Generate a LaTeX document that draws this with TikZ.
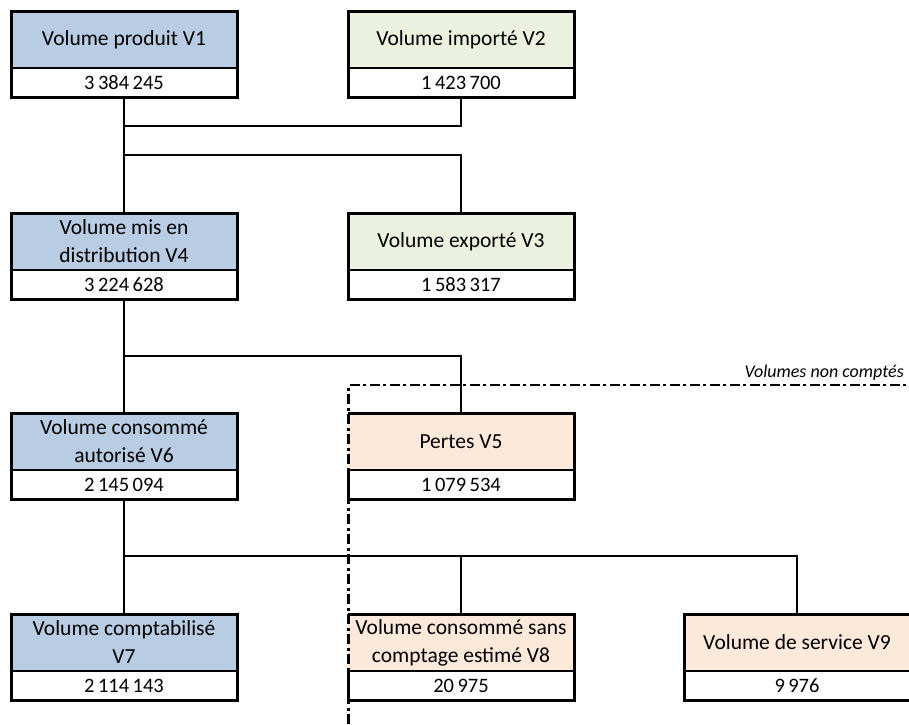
\documentclass[tikz,border=0pt]{standalone}
\usepackage{fontspec}
\setmainfont{Carlito}
\definecolor{cblue}{HTML}{B8CCE4}
\definecolor{cgreen}{HTML}{EBF1DE}
\definecolor{cpeach}{HTML}{FDE9D9}
\begin{document}
\begin{tikzpicture}[x=1pt,y=-1pt,
  cell/.style={anchor=north west,minimum width=226pt,minimum height=57pt,inner sep=0pt,outer sep=0pt,
    align=center,font=\fontsize{21.5}{28}\selectfont},
  valcell/.style={anchor=north west,minimum width=226pt,minimum height=29pt,inner sep=0pt,outer sep=0pt,
    fill=white,font=\fontsize{20.5}{24}\selectfont,text height=14pt,text depth=1pt},
  frame/.style={line width=3pt,line join=miter},
  sep/.style={line width=1.6pt},
  link/.style={line width=2.8pt,line join=miter},
  uncounted/.style={line width=2.2pt,dash pattern=on 10pt off 3.5pt on 3pt off 3.5pt}]
\useasboundingbox (0,0) rectangle (909,724);

% cells
\node[cell,fill=cblue] (v1) at (11,11) {Volume produit V1};
\node[valcell] (v1val) at (v1.south west) {3\,384\,245};
\node[cell,fill=cgreen] (v2) at (348,11) {Volume importé V2};
\node[valcell] (v2val) at (v2.south west) {1\,423\,700};
\node[cell,fill=cblue] (v4) at (11,213) {Volume mis en\\distribution V4};
\node[valcell] (v4val) at (v4.south west) {3\,224\,628};
\node[cell,fill=cgreen] (v3) at (348,213) {Volume exporté V3};
\node[valcell] (v3val) at (v3.south west) {1\,583\,317};
\node[cell,fill=cblue] (v6) at (11,413) {Volume consommé\\autorisé V6};
\node[valcell] (v6val) at (v6.south west) {2\,145\,094};
\node[cell,fill=cpeach] (v5) at (348,413) {Pertes V5};
\node[valcell] (v5val) at (v5.south west) {1\,079\,534};
\node[cell,fill=cblue] (v7) at (11,614) {Volume comptabilisé\\V7};
\node[valcell] (v7val) at (v7.south west) {2\,114\,143};
\node[cell,fill=cpeach] (v8) at (348,614) {Volume consommé sans\\comptage estimé V8};
\node[valcell] (v8val) at (v8.south west) {20\,975};
\node[cell,fill=cpeach] (v9) at (684,614) {Volume de service V9};
\node[valcell] (v9val) at (v9.south west) {9\,976};

% separators and frames
\foreach \n in {v1,v2,v3,v4,v5,v6,v7,v8,v9}
  \draw[sep] (\n.south west) -- (\n.south east);
\foreach \n in {v1,v2,v3,v4,v6,v7,v9}
  \draw[frame] (\n.north west) rectangle (\n val.south east);
\foreach \n in {v5,v8}
  \draw[frame] (\n val.north west) -- (\n val.south west) -- (\n val.south east)
    -- (\n.north east) -- (\n.north west);

% junction points
\coordinate (j1) at (124,126);
\coordinate (j2) at (124,155);
\coordinate (j3) at (124,356);
\coordinate (j4) at (124,556);

% connectors
\draw[link] (v1val.south) -- (v4.north);
\draw[link] (v2val.south) |- (j1);
\draw[link] (j2) -| (v3.north);
\draw[link] (v4val.south) -- (v6.north);
\draw[link] (j3) -| (v5.north);
\draw[link] (v6val.south) -- (v7.north);
\draw[link] (j4) -| (v9.north);
\draw[link] (v8.north |- j4) -- (v8.north);

% uncounted volumes boundary
\coordinate (ubot) at (348.5,724);
\coordinate (uright) at (906,385);
\draw[uncounted] (ubot) |- (uright);
\node[anchor=base east,inner sep=0pt,font=\fontsize{18}{20}\selectfont\itshape] (ulabel) at (904,377) {Volumes non comptés};
\end{tikzpicture}
\end{document}
